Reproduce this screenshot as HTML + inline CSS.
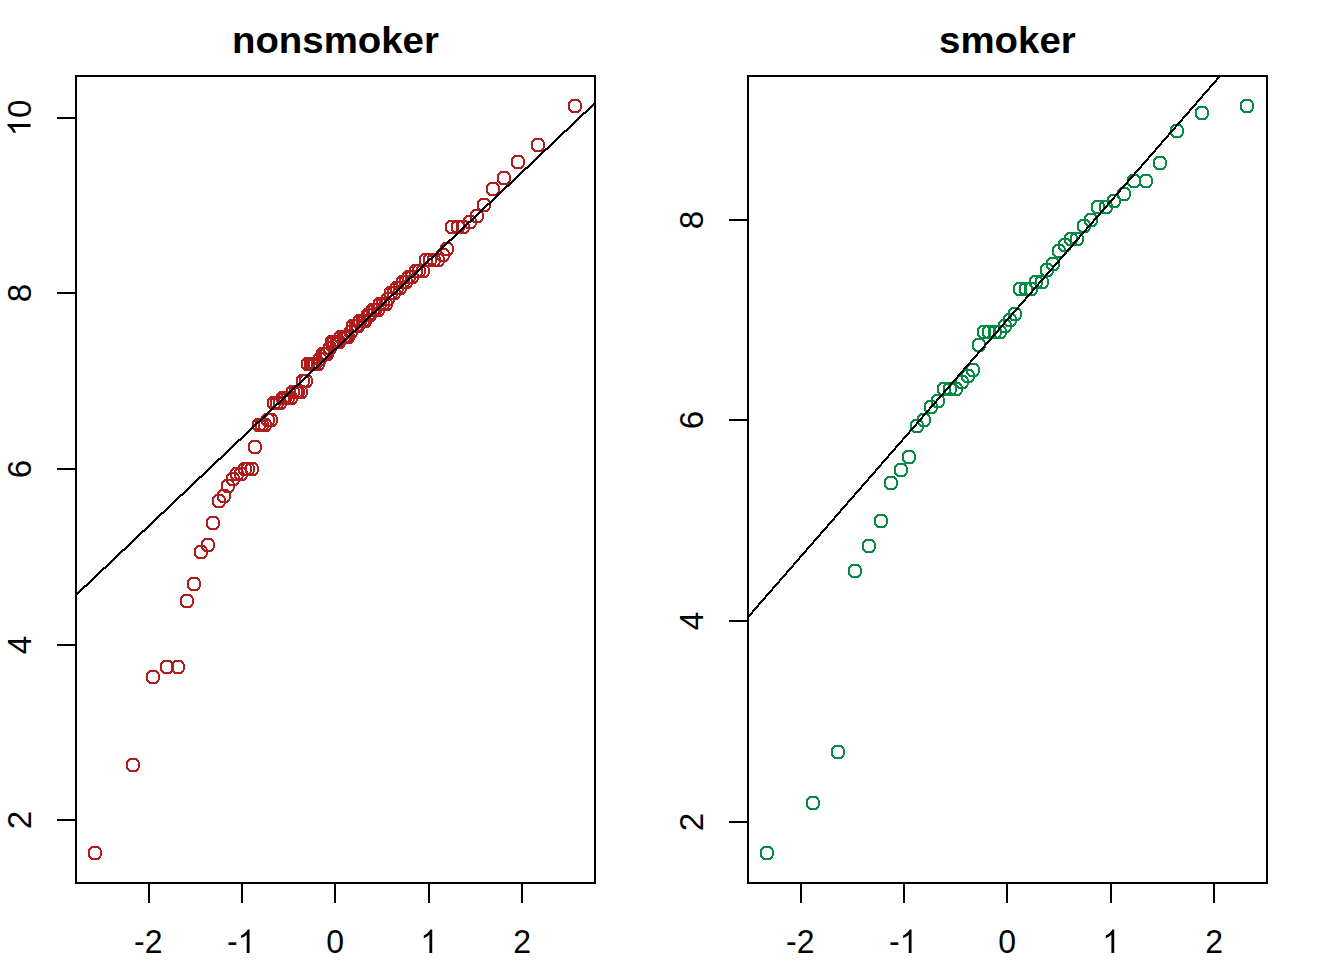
<!DOCTYPE html>
<html><head><meta charset="utf-8"><title>qq</title>
<style>html,body{margin:0;padding:0;background:#fff}svg{display:block}</style></head>
<body><svg width="1344" height="960" viewBox="0 0 1344 960">
<rect x="0" y="0" width="1344" height="960" fill="#fff"/>

<g shape-rendering="crispEdges" fill="none" stroke="#000" stroke-width="2">
<clipPath id="clip0"><rect x="76" y="76" width="519" height="807"/></clipPath>
<rect x="76" y="76" width="519" height="807"/>
<line x1="57" y1="820" x2="76" y2="820"/>
<line x1="57" y1="645" x2="76" y2="645"/>
<line x1="57" y1="469" x2="76" y2="469"/>
<line x1="57" y1="293" x2="76" y2="293"/>
<line x1="57" y1="118" x2="76" y2="118"/>
<line x1="149" y1="883" x2="149" y2="903"/>
<line x1="242" y1="883" x2="242" y2="903"/>
<line x1="335" y1="883" x2="335" y2="903"/>
<line x1="429" y1="883" x2="429" y2="903"/>
<line x1="522" y1="883" x2="522" y2="903"/>
</g>
<g shape-rendering="crispEdges" fill="#B11C1C" stroke="none">
<path d="M91,846h8v1h-8zM90,847h10v1h-10zM89,848h3v1h-3zM98,848h3v1h-3zM88,849h3v1h-3zM99,849h2v1h-2zM88,850h2v6h-2zM100,850h2v6h-2zM88,856h3v1h-3zM99,856h2v1h-2zM89,857h3v1h-3zM98,857h3v1h-3zM90,858h10v1h-10zM91,859h8v1h-8zM129,758h8v1h-8zM128,759h10v1h-10zM127,760h3v1h-3zM136,760h3v1h-3zM126,761h3v1h-3zM137,761h2v1h-2zM126,762h2v6h-2zM138,762h2v6h-2zM126,768h3v1h-3zM137,768h2v1h-2zM127,769h3v1h-3zM136,769h3v1h-3zM128,770h10v1h-10zM129,771h8v1h-8zM149,670h8v1h-8zM148,671h10v1h-10zM147,672h3v1h-3zM156,672h3v1h-3zM146,673h3v1h-3zM157,673h2v1h-2zM146,674h2v6h-2zM158,674h2v6h-2zM146,680h3v1h-3zM157,680h2v1h-2zM147,681h3v1h-3zM156,681h3v1h-3zM148,682h10v1h-10zM149,683h8v1h-8zM163,660h8v1h-8zM162,661h10v1h-10zM161,662h3v1h-3zM170,662h3v1h-3zM160,663h3v1h-3zM171,663h2v1h-2zM160,664h2v6h-2zM172,664h2v6h-2zM160,670h3v1h-3zM171,670h2v1h-2zM161,671h3v1h-3zM170,671h3v1h-3zM162,672h10v1h-10zM163,673h8v1h-8zM174,660h8v1h-8zM173,661h10v1h-10zM172,662h3v1h-3zM181,662h3v1h-3zM171,663h3v1h-3zM182,663h2v1h-2zM171,664h2v6h-2zM183,664h2v6h-2zM171,670h3v1h-3zM182,670h2v1h-2zM172,671h3v1h-3zM181,671h3v1h-3zM173,672h10v1h-10zM174,673h8v1h-8zM183,594h8v1h-8zM182,595h10v1h-10zM181,596h3v1h-3zM190,596h3v1h-3zM180,597h3v1h-3zM191,597h2v1h-2zM180,598h2v6h-2zM192,598h2v6h-2zM180,604h3v1h-3zM191,604h2v1h-2zM181,605h3v1h-3zM190,605h3v1h-3zM182,606h10v1h-10zM183,607h8v1h-8zM190,577h8v1h-8zM189,578h10v1h-10zM188,579h3v1h-3zM197,579h3v1h-3zM187,580h3v1h-3zM198,580h2v1h-2zM187,581h2v6h-2zM199,581h2v6h-2zM187,587h3v1h-3zM198,587h2v1h-2zM188,588h3v1h-3zM197,588h3v1h-3zM189,589h10v1h-10zM190,590h8v1h-8zM197,545h8v1h-8zM196,546h10v1h-10zM195,547h3v1h-3zM204,547h3v1h-3zM194,548h3v1h-3zM205,548h2v1h-2zM194,549h2v6h-2zM206,549h2v6h-2zM194,555h3v1h-3zM205,555h2v1h-2zM195,556h3v1h-3zM204,556h3v1h-3zM196,557h10v1h-10zM197,558h8v1h-8zM204,538h8v1h-8zM203,539h10v1h-10zM202,540h3v1h-3zM211,540h3v1h-3zM201,541h3v1h-3zM212,541h2v1h-2zM201,542h2v6h-2zM213,542h2v6h-2zM201,548h3v1h-3zM212,548h2v1h-2zM202,549h3v1h-3zM211,549h3v1h-3zM203,550h10v1h-10zM204,551h8v1h-8zM209,516h8v1h-8zM208,517h10v1h-10zM207,518h3v1h-3zM216,518h3v1h-3zM206,519h3v1h-3zM217,519h2v1h-2zM206,520h2v6h-2zM218,520h2v6h-2zM206,526h3v1h-3zM217,526h2v1h-2zM207,527h3v1h-3zM216,527h3v1h-3zM208,528h10v1h-10zM209,529h8v1h-8zM215,494h8v1h-8zM214,495h10v1h-10zM213,496h3v1h-3zM222,496h3v1h-3zM212,497h3v1h-3zM223,497h2v1h-2zM212,498h2v6h-2zM224,498h2v6h-2zM212,504h3v1h-3zM223,504h2v1h-2zM213,505h3v1h-3zM222,505h3v1h-3zM214,506h10v1h-10zM215,507h8v1h-8zM220,489h8v1h-8zM219,490h10v1h-10zM218,491h3v1h-3zM227,491h3v1h-3zM217,492h3v1h-3zM228,492h2v1h-2zM217,493h2v6h-2zM229,493h2v6h-2zM217,499h3v1h-3zM228,499h2v1h-2zM218,500h3v1h-3zM227,500h3v1h-3zM219,501h10v1h-10zM220,502h8v1h-8zM224,479h8v1h-8zM223,480h10v1h-10zM222,481h3v1h-3zM231,481h3v1h-3zM221,482h3v1h-3zM232,482h2v1h-2zM221,483h2v6h-2zM233,483h2v6h-2zM221,489h3v1h-3zM232,489h2v1h-2zM222,490h3v1h-3zM231,490h3v1h-3zM223,491h10v1h-10zM224,492h8v1h-8zM229,472h8v1h-8zM228,473h10v1h-10zM227,474h3v1h-3zM236,474h3v1h-3zM226,475h3v1h-3zM237,475h2v1h-2zM226,476h2v6h-2zM238,476h2v6h-2zM226,482h3v1h-3zM237,482h2v1h-2zM227,483h3v1h-3zM236,483h3v1h-3zM228,484h10v1h-10zM229,485h8v1h-8zM233,467h8v1h-8zM232,468h10v1h-10zM231,469h3v1h-3zM240,469h3v1h-3zM230,470h3v1h-3zM241,470h2v1h-2zM230,471h2v6h-2zM242,471h2v6h-2zM230,477h3v1h-3zM241,477h2v1h-2zM231,478h3v1h-3zM240,478h3v1h-3zM232,479h10v1h-10zM233,480h8v1h-8zM237,467h8v1h-8zM236,468h10v1h-10zM235,469h3v1h-3zM244,469h3v1h-3zM234,470h3v1h-3zM245,470h2v1h-2zM234,471h2v6h-2zM246,471h2v6h-2zM234,477h3v1h-3zM245,477h2v1h-2zM235,478h3v1h-3zM244,478h3v1h-3zM236,479h10v1h-10zM237,480h8v1h-8zM241,462h8v1h-8zM240,463h10v1h-10zM239,464h3v1h-3zM248,464h3v1h-3zM238,465h3v1h-3zM249,465h2v1h-2zM238,466h2v6h-2zM250,466h2v6h-2zM238,472h3v1h-3zM249,472h2v1h-2zM239,473h3v1h-3zM248,473h3v1h-3zM240,474h10v1h-10zM241,475h8v1h-8zM244,462h8v1h-8zM243,463h10v1h-10zM242,464h3v1h-3zM251,464h3v1h-3zM241,465h3v1h-3zM252,465h2v1h-2zM241,466h2v6h-2zM253,466h2v6h-2zM241,472h3v1h-3zM252,472h2v1h-2zM242,473h3v1h-3zM251,473h3v1h-3zM243,474h10v1h-10zM244,475h8v1h-8zM248,462h8v1h-8zM247,463h10v1h-10zM246,464h3v1h-3zM255,464h3v1h-3zM245,465h3v1h-3zM256,465h2v1h-2zM245,466h2v6h-2zM257,466h2v6h-2zM245,472h3v1h-3zM256,472h2v1h-2zM246,473h3v1h-3zM255,473h3v1h-3zM247,474h10v1h-10zM248,475h8v1h-8zM251,440h8v1h-8zM250,441h10v1h-10zM249,442h3v1h-3zM258,442h3v1h-3zM248,443h3v1h-3zM259,443h2v1h-2zM248,444h2v6h-2zM260,444h2v6h-2zM248,450h3v1h-3zM259,450h2v1h-2zM249,451h3v1h-3zM258,451h3v1h-3zM250,452h10v1h-10zM251,453h8v1h-8zM255,418h8v1h-8zM254,419h10v1h-10zM253,420h3v1h-3zM262,420h3v1h-3zM252,421h3v1h-3zM263,421h2v1h-2zM252,422h2v6h-2zM264,422h2v6h-2zM252,428h3v1h-3zM263,428h2v1h-2zM253,429h3v1h-3zM262,429h3v1h-3zM254,430h10v1h-10zM255,431h8v1h-8zM258,418h8v1h-8zM257,419h10v1h-10zM256,420h3v1h-3zM265,420h3v1h-3zM255,421h3v1h-3zM266,421h2v1h-2zM255,422h2v6h-2zM267,422h2v6h-2zM255,428h3v1h-3zM266,428h2v1h-2zM256,429h3v1h-3zM265,429h3v1h-3zM257,430h10v1h-10zM258,431h8v1h-8zM261,418h8v1h-8zM260,419h10v1h-10zM259,420h3v1h-3zM268,420h3v1h-3zM258,421h3v1h-3zM269,421h2v1h-2zM258,422h2v6h-2zM270,422h2v6h-2zM258,428h3v1h-3zM269,428h2v1h-2zM259,429h3v1h-3zM268,429h3v1h-3zM260,430h10v1h-10zM261,431h8v1h-8zM264,413h8v1h-8zM263,414h10v1h-10zM262,415h3v1h-3zM271,415h3v1h-3zM261,416h3v1h-3zM272,416h2v1h-2zM261,417h2v6h-2zM273,417h2v6h-2zM261,423h3v1h-3zM272,423h2v1h-2zM262,424h3v1h-3zM271,424h3v1h-3zM263,425h10v1h-10zM264,426h8v1h-8zM267,413h8v1h-8zM266,414h10v1h-10zM265,415h3v1h-3zM274,415h3v1h-3zM264,416h3v1h-3zM275,416h2v1h-2zM264,417h2v6h-2zM276,417h2v6h-2zM264,423h3v1h-3zM275,423h2v1h-2zM265,424h3v1h-3zM274,424h3v1h-3zM266,425h10v1h-10zM267,426h8v1h-8zM270,396h8v1h-8zM269,397h10v1h-10zM268,398h3v1h-3zM277,398h3v1h-3zM267,399h3v1h-3zM278,399h2v1h-2zM267,400h2v6h-2zM279,400h2v6h-2zM267,406h3v1h-3zM278,406h2v1h-2zM268,407h3v1h-3zM277,407h3v1h-3zM269,408h10v1h-10zM270,409h8v1h-8zM273,396h8v1h-8zM272,397h10v1h-10zM271,398h3v1h-3zM280,398h3v1h-3zM270,399h3v1h-3zM281,399h2v1h-2zM270,400h2v6h-2zM282,400h2v6h-2zM270,406h3v1h-3zM281,406h2v1h-2zM271,407h3v1h-3zM280,407h3v1h-3zM272,408h10v1h-10zM273,409h8v1h-8zM276,396h8v1h-8zM275,397h10v1h-10zM274,398h3v1h-3zM283,398h3v1h-3zM273,399h3v1h-3zM284,399h2v1h-2zM273,400h2v6h-2zM285,400h2v6h-2zM273,406h3v1h-3zM284,406h2v1h-2zM274,407h3v1h-3zM283,407h3v1h-3zM275,408h10v1h-10zM276,409h8v1h-8zM279,391h8v1h-8zM278,392h10v1h-10zM277,393h3v1h-3zM286,393h3v1h-3zM276,394h3v1h-3zM287,394h2v1h-2zM276,395h2v6h-2zM288,395h2v6h-2zM276,401h3v1h-3zM287,401h2v1h-2zM277,402h3v1h-3zM286,402h3v1h-3zM278,403h10v1h-10zM279,404h8v1h-8zM281,391h8v1h-8zM280,392h10v1h-10zM279,393h3v1h-3zM288,393h3v1h-3zM278,394h3v1h-3zM289,394h2v1h-2zM278,395h2v6h-2zM290,395h2v6h-2zM278,401h3v1h-3zM289,401h2v1h-2zM279,402h3v1h-3zM288,402h3v1h-3zM280,403h10v1h-10zM281,404h8v1h-8zM284,391h8v1h-8zM283,392h10v1h-10zM282,393h3v1h-3zM291,393h3v1h-3zM281,394h3v1h-3zM292,394h2v1h-2zM281,395h2v6h-2zM293,395h2v6h-2zM281,401h3v1h-3zM292,401h2v1h-2zM282,402h3v1h-3zM291,402h3v1h-3zM283,403h10v1h-10zM284,404h8v1h-8zM287,391h8v1h-8zM286,392h10v1h-10zM285,393h3v1h-3zM294,393h3v1h-3zM284,394h3v1h-3zM295,394h2v1h-2zM284,395h2v6h-2zM296,395h2v6h-2zM284,401h3v1h-3zM295,401h2v1h-2zM285,402h3v1h-3zM294,402h3v1h-3zM286,403h10v1h-10zM287,404h8v1h-8zM289,385h8v1h-8zM288,386h10v1h-10zM287,387h3v1h-3zM296,387h3v1h-3zM286,388h3v1h-3zM297,388h2v1h-2zM286,389h2v6h-2zM298,389h2v6h-2zM286,395h3v1h-3zM297,395h2v1h-2zM287,396h3v1h-3zM296,396h3v1h-3zM288,397h10v1h-10zM289,398h8v1h-8zM292,385h8v1h-8zM291,386h10v1h-10zM290,387h3v1h-3zM299,387h3v1h-3zM289,388h3v1h-3zM300,388h2v1h-2zM289,389h2v6h-2zM301,389h2v6h-2zM289,395h3v1h-3zM300,395h2v1h-2zM290,396h3v1h-3zM299,396h3v1h-3zM291,397h10v1h-10zM292,398h8v1h-8zM294,385h8v1h-8zM293,386h10v1h-10zM292,387h3v1h-3zM301,387h3v1h-3zM291,388h3v1h-3zM302,388h2v1h-2zM291,389h2v6h-2zM303,389h2v6h-2zM291,395h3v1h-3zM302,395h2v1h-2zM292,396h3v1h-3zM301,396h3v1h-3zM293,397h10v1h-10zM294,398h8v1h-8zM297,385h8v1h-8zM296,386h10v1h-10zM295,387h3v1h-3zM304,387h3v1h-3zM294,388h3v1h-3zM305,388h2v1h-2zM294,389h2v6h-2zM306,389h2v6h-2zM294,395h3v1h-3zM305,395h2v1h-2zM295,396h3v1h-3zM304,396h3v1h-3zM296,397h10v1h-10zM297,398h8v1h-8zM299,374h8v1h-8zM298,375h10v1h-10zM297,376h3v1h-3zM306,376h3v1h-3zM296,377h3v1h-3zM307,377h2v1h-2zM296,378h2v6h-2zM308,378h2v6h-2zM296,384h3v1h-3zM307,384h2v1h-2zM297,385h3v1h-3zM306,385h3v1h-3zM298,386h10v1h-10zM299,387h8v1h-8zM302,374h8v1h-8zM301,375h10v1h-10zM300,376h3v1h-3zM309,376h3v1h-3zM299,377h3v1h-3zM310,377h2v1h-2zM299,378h2v6h-2zM311,378h2v6h-2zM299,384h3v1h-3zM310,384h2v1h-2zM300,385h3v1h-3zM309,385h3v1h-3zM301,386h10v1h-10zM302,387h8v1h-8zM304,357h8v1h-8zM303,358h10v1h-10zM302,359h3v1h-3zM311,359h3v1h-3zM301,360h3v1h-3zM312,360h2v1h-2zM301,361h2v6h-2zM313,361h2v6h-2zM301,367h3v1h-3zM312,367h2v1h-2zM302,368h3v1h-3zM311,368h3v1h-3zM303,369h10v1h-10zM304,370h8v1h-8zM307,357h8v1h-8zM306,358h10v1h-10zM305,359h3v1h-3zM314,359h3v1h-3zM304,360h3v1h-3zM315,360h2v1h-2zM304,361h2v6h-2zM316,361h2v6h-2zM304,367h3v1h-3zM315,367h2v1h-2zM305,368h3v1h-3zM314,368h3v1h-3zM306,369h10v1h-10zM307,370h8v1h-8zM309,357h8v1h-8zM308,358h10v1h-10zM307,359h3v1h-3zM316,359h3v1h-3zM306,360h3v1h-3zM317,360h2v1h-2zM306,361h2v6h-2zM318,361h2v6h-2zM306,367h3v1h-3zM317,367h2v1h-2zM307,368h3v1h-3zM316,368h3v1h-3zM308,369h10v1h-10zM309,370h8v1h-8zM311,357h8v1h-8zM310,358h10v1h-10zM309,359h3v1h-3zM318,359h3v1h-3zM308,360h3v1h-3zM319,360h2v1h-2zM308,361h2v6h-2zM320,361h2v6h-2zM308,367h3v1h-3zM319,367h2v1h-2zM309,368h3v1h-3zM318,368h3v1h-3zM310,369h10v1h-10zM311,370h8v1h-8zM314,357h8v1h-8zM313,358h10v1h-10zM312,359h3v1h-3zM321,359h3v1h-3zM311,360h3v1h-3zM322,360h2v1h-2zM311,361h2v6h-2zM323,361h2v6h-2zM311,367h3v1h-3zM322,367h2v1h-2zM312,368h3v1h-3zM321,368h3v1h-3zM313,369h10v1h-10zM314,370h8v1h-8zM316,352h8v1h-8zM315,353h10v1h-10zM314,354h3v1h-3zM323,354h3v1h-3zM313,355h3v1h-3zM324,355h2v1h-2zM313,356h2v6h-2zM325,356h2v6h-2zM313,362h3v1h-3zM324,362h2v1h-2zM314,363h3v1h-3zM323,363h3v1h-3zM315,364h10v1h-10zM316,365h8v1h-8zM319,347h8v1h-8zM318,348h10v1h-10zM317,349h3v1h-3zM326,349h3v1h-3zM316,350h3v1h-3zM327,350h2v1h-2zM316,351h2v6h-2zM328,351h2v6h-2zM316,357h3v1h-3zM327,357h2v1h-2zM317,358h3v1h-3zM326,358h3v1h-3zM318,359h10v1h-10zM319,360h8v1h-8zM321,347h8v1h-8zM320,348h10v1h-10zM319,349h3v1h-3zM328,349h3v1h-3zM318,350h3v1h-3zM329,350h2v1h-2zM318,351h2v6h-2zM330,351h2v6h-2zM318,357h3v1h-3zM329,357h2v1h-2zM319,358h3v1h-3zM328,358h3v1h-3zM320,359h10v1h-10zM321,360h8v1h-8zM323,347h8v1h-8zM322,348h10v1h-10zM321,349h3v1h-3zM330,349h3v1h-3zM320,350h3v1h-3zM331,350h2v1h-2zM320,351h2v6h-2zM332,351h2v6h-2zM320,357h3v1h-3zM331,357h2v1h-2zM321,358h3v1h-3zM330,358h3v1h-3zM322,359h10v1h-10zM323,360h8v1h-8zM326,341h8v1h-8zM325,342h10v1h-10zM324,343h3v1h-3zM333,343h3v1h-3zM323,344h3v1h-3zM334,344h2v1h-2zM323,345h2v6h-2zM335,345h2v6h-2zM323,351h3v1h-3zM334,351h2v1h-2zM324,352h3v1h-3zM333,352h3v1h-3zM325,353h10v1h-10zM326,354h8v1h-8zM328,335h8v1h-8zM327,336h10v1h-10zM326,337h3v1h-3zM335,337h3v1h-3zM325,338h3v1h-3zM336,338h2v1h-2zM325,339h2v6h-2zM337,339h2v6h-2zM325,345h3v1h-3zM336,345h2v1h-2zM326,346h3v1h-3zM335,346h3v1h-3zM327,347h10v1h-10zM328,348h8v1h-8zM330,335h8v1h-8zM329,336h10v1h-10zM328,337h3v1h-3zM337,337h3v1h-3zM327,338h3v1h-3zM338,338h2v1h-2zM327,339h2v6h-2zM339,339h2v6h-2zM327,345h3v1h-3zM338,345h2v1h-2zM328,346h3v1h-3zM337,346h3v1h-3zM329,347h10v1h-10zM330,348h8v1h-8zM333,335h8v1h-8zM332,336h10v1h-10zM331,337h3v1h-3zM340,337h3v1h-3zM330,338h3v1h-3zM341,338h2v1h-2zM330,339h2v6h-2zM342,339h2v6h-2zM330,345h3v1h-3zM341,345h2v1h-2zM331,346h3v1h-3zM340,346h3v1h-3zM332,347h10v1h-10zM333,348h8v1h-8zM335,335h8v1h-8zM334,336h10v1h-10zM333,337h3v1h-3zM342,337h3v1h-3zM332,338h3v1h-3zM343,338h2v1h-2zM332,339h2v6h-2zM344,339h2v6h-2zM332,345h3v1h-3zM343,345h2v1h-2zM333,346h3v1h-3zM342,346h3v1h-3zM334,347h10v1h-10zM335,348h8v1h-8zM337,330h8v1h-8zM336,331h10v1h-10zM335,332h3v1h-3zM344,332h3v1h-3zM334,333h3v1h-3zM345,333h2v1h-2zM334,334h2v6h-2zM346,334h2v6h-2zM334,340h3v1h-3zM345,340h2v1h-2zM335,341h3v1h-3zM344,341h3v1h-3zM336,342h10v1h-10zM337,343h8v1h-8zM340,330h8v1h-8zM339,331h10v1h-10zM338,332h3v1h-3zM347,332h3v1h-3zM337,333h3v1h-3zM348,333h2v1h-2zM337,334h2v6h-2zM349,334h2v6h-2zM337,340h3v1h-3zM348,340h2v1h-2zM338,341h3v1h-3zM347,341h3v1h-3zM339,342h10v1h-10zM340,343h8v1h-8zM342,330h8v1h-8zM341,331h10v1h-10zM340,332h3v1h-3zM349,332h3v1h-3zM339,333h3v1h-3zM350,333h2v1h-2zM339,334h2v6h-2zM351,334h2v6h-2zM339,340h3v1h-3zM350,340h2v1h-2zM340,341h3v1h-3zM349,341h3v1h-3zM341,342h10v1h-10zM342,343h8v1h-8zM344,330h8v1h-8zM343,331h10v1h-10zM342,332h3v1h-3zM351,332h3v1h-3zM341,333h3v1h-3zM352,333h2v1h-2zM341,334h2v6h-2zM353,334h2v6h-2zM341,340h3v1h-3zM352,340h2v1h-2zM342,341h3v1h-3zM351,341h3v1h-3zM343,342h10v1h-10zM344,343h8v1h-8zM347,325h8v1h-8zM346,326h10v1h-10zM345,327h3v1h-3zM354,327h3v1h-3zM344,328h3v1h-3zM355,328h2v1h-2zM344,329h2v6h-2zM356,329h2v6h-2zM344,335h3v1h-3zM355,335h2v1h-2zM345,336h3v1h-3zM354,336h3v1h-3zM346,337h10v1h-10zM347,338h8v1h-8zM349,319h8v1h-8zM348,320h10v1h-10zM347,321h3v1h-3zM356,321h3v1h-3zM346,322h3v1h-3zM357,322h2v1h-2zM346,323h2v6h-2zM358,323h2v6h-2zM346,329h3v1h-3zM357,329h2v1h-2zM347,330h3v1h-3zM356,330h3v1h-3zM348,331h10v1h-10zM349,332h8v1h-8zM352,319h8v1h-8zM351,320h10v1h-10zM350,321h3v1h-3zM359,321h3v1h-3zM349,322h3v1h-3zM360,322h2v1h-2zM349,323h2v6h-2zM361,323h2v6h-2zM349,329h3v1h-3zM360,329h2v1h-2zM350,330h3v1h-3zM359,330h3v1h-3zM351,331h10v1h-10zM352,332h8v1h-8zM354,319h8v1h-8zM353,320h10v1h-10zM352,321h3v1h-3zM361,321h3v1h-3zM351,322h3v1h-3zM362,322h2v1h-2zM351,323h2v6h-2zM363,323h2v6h-2zM351,329h3v1h-3zM362,329h2v1h-2zM352,330h3v1h-3zM361,330h3v1h-3zM353,331h10v1h-10zM354,332h8v1h-8zM356,314h8v1h-8zM355,315h10v1h-10zM354,316h3v1h-3zM363,316h3v1h-3zM353,317h3v1h-3zM364,317h2v1h-2zM353,318h2v6h-2zM365,318h2v6h-2zM353,324h3v1h-3zM364,324h2v1h-2zM354,325h3v1h-3zM363,325h3v1h-3zM355,326h10v1h-10zM356,327h8v1h-8zM359,314h8v1h-8zM358,315h10v1h-10zM357,316h3v1h-3zM366,316h3v1h-3zM356,317h3v1h-3zM367,317h2v1h-2zM356,318h2v6h-2zM368,318h2v6h-2zM356,324h3v1h-3zM367,324h2v1h-2zM357,325h3v1h-3zM366,325h3v1h-3zM358,326h10v1h-10zM359,327h8v1h-8zM361,314h8v1h-8zM360,315h10v1h-10zM359,316h3v1h-3zM368,316h3v1h-3zM358,317h3v1h-3zM369,317h2v1h-2zM358,318h2v6h-2zM370,318h2v6h-2zM358,324h3v1h-3zM369,324h2v1h-2zM359,325h3v1h-3zM368,325h3v1h-3zM360,326h10v1h-10zM361,327h8v1h-8zM364,308h8v1h-8zM363,309h10v1h-10zM362,310h3v1h-3zM371,310h3v1h-3zM361,311h3v1h-3zM372,311h2v1h-2zM361,312h2v6h-2zM373,312h2v6h-2zM361,318h3v1h-3zM372,318h2v1h-2zM362,319h3v1h-3zM371,319h3v1h-3zM363,320h10v1h-10zM364,321h8v1h-8zM366,308h8v1h-8zM365,309h10v1h-10zM364,310h3v1h-3zM373,310h3v1h-3zM363,311h3v1h-3zM374,311h2v1h-2zM363,312h2v6h-2zM375,312h2v6h-2zM363,318h3v1h-3zM374,318h2v1h-2zM364,319h3v1h-3zM373,319h3v1h-3zM365,320h10v1h-10zM366,321h8v1h-8zM369,303h8v1h-8zM368,304h10v1h-10zM367,305h3v1h-3zM376,305h3v1h-3zM366,306h3v1h-3zM377,306h2v1h-2zM366,307h2v6h-2zM378,307h2v6h-2zM366,313h3v1h-3zM377,313h2v1h-2zM367,314h3v1h-3zM376,314h3v1h-3zM368,315h10v1h-10zM369,316h8v1h-8zM371,303h8v1h-8zM370,304h10v1h-10zM369,305h3v1h-3zM378,305h3v1h-3zM368,306h3v1h-3zM379,306h2v1h-2zM368,307h2v6h-2zM380,307h2v6h-2zM368,313h3v1h-3zM379,313h2v1h-2zM369,314h3v1h-3zM378,314h3v1h-3zM370,315h10v1h-10zM371,316h8v1h-8zM374,303h8v1h-8zM373,304h10v1h-10zM372,305h3v1h-3zM381,305h3v1h-3zM371,306h3v1h-3zM382,306h2v1h-2zM371,307h2v6h-2zM383,307h2v6h-2zM371,313h3v1h-3zM382,313h2v1h-2zM372,314h3v1h-3zM381,314h3v1h-3zM373,315h10v1h-10zM374,316h8v1h-8zM376,297h8v1h-8zM375,298h10v1h-10zM374,299h3v1h-3zM383,299h3v1h-3zM373,300h3v1h-3zM384,300h2v1h-2zM373,301h2v6h-2zM385,301h2v6h-2zM373,307h3v1h-3zM384,307h2v1h-2zM374,308h3v1h-3zM383,308h3v1h-3zM375,309h10v1h-10zM376,310h8v1h-8zM379,297h8v1h-8zM378,298h10v1h-10zM377,299h3v1h-3zM386,299h3v1h-3zM376,300h3v1h-3zM387,300h2v1h-2zM376,301h2v6h-2zM388,301h2v6h-2zM376,307h3v1h-3zM387,307h2v1h-2zM377,308h3v1h-3zM386,308h3v1h-3zM378,309h10v1h-10zM379,310h8v1h-8zM382,297h8v1h-8zM381,298h10v1h-10zM380,299h3v1h-3zM389,299h3v1h-3zM379,300h3v1h-3zM390,300h2v1h-2zM379,301h2v6h-2zM391,301h2v6h-2zM379,307h3v1h-3zM390,307h2v1h-2zM380,308h3v1h-3zM389,308h3v1h-3zM381,309h10v1h-10zM382,310h8v1h-8zM384,292h8v1h-8zM383,293h10v1h-10zM382,294h3v1h-3zM391,294h3v1h-3zM381,295h3v1h-3zM392,295h2v1h-2zM381,296h2v6h-2zM393,296h2v6h-2zM381,302h3v1h-3zM392,302h2v1h-2zM382,303h3v1h-3zM391,303h3v1h-3zM383,304h10v1h-10zM384,305h8v1h-8zM387,286h8v1h-8zM386,287h10v1h-10zM385,288h3v1h-3zM394,288h3v1h-3zM384,289h3v1h-3zM395,289h2v1h-2zM384,290h2v6h-2zM396,290h2v6h-2zM384,296h3v1h-3zM395,296h2v1h-2zM385,297h3v1h-3zM394,297h3v1h-3zM386,298h10v1h-10zM387,299h8v1h-8zM390,286h8v1h-8zM389,287h10v1h-10zM388,288h3v1h-3zM397,288h3v1h-3zM387,289h3v1h-3zM398,289h2v1h-2zM387,290h2v6h-2zM399,290h2v6h-2zM387,296h3v1h-3zM398,296h2v1h-2zM388,297h3v1h-3zM397,297h3v1h-3zM389,298h10v1h-10zM390,299h8v1h-8zM393,281h8v1h-8zM392,282h10v1h-10zM391,283h3v1h-3zM400,283h3v1h-3zM390,284h3v1h-3zM401,284h2v1h-2zM390,285h2v6h-2zM402,285h2v6h-2zM390,291h3v1h-3zM401,291h2v1h-2zM391,292h3v1h-3zM400,292h3v1h-3zM392,293h10v1h-10zM393,294h8v1h-8zM396,281h8v1h-8zM395,282h10v1h-10zM394,283h3v1h-3zM403,283h3v1h-3zM393,284h3v1h-3zM404,284h2v1h-2zM393,285h2v6h-2zM405,285h2v6h-2zM393,291h3v1h-3zM404,291h2v1h-2zM394,292h3v1h-3zM403,292h3v1h-3zM395,293h10v1h-10zM396,294h8v1h-8zM399,275h8v1h-8zM398,276h10v1h-10zM397,277h3v1h-3zM406,277h3v1h-3zM396,278h3v1h-3zM407,278h2v1h-2zM396,279h2v6h-2zM408,279h2v6h-2zM396,285h3v1h-3zM407,285h2v1h-2zM397,286h3v1h-3zM406,286h3v1h-3zM398,287h10v1h-10zM399,288h8v1h-8zM402,275h8v1h-8zM401,276h10v1h-10zM400,277h3v1h-3zM409,277h3v1h-3zM399,278h3v1h-3zM410,278h2v1h-2zM399,279h2v6h-2zM411,279h2v6h-2zM399,285h3v1h-3zM410,285h2v1h-2zM400,286h3v1h-3zM409,286h3v1h-3zM401,287h10v1h-10zM402,288h8v1h-8zM405,270h8v1h-8zM404,271h10v1h-10zM403,272h3v1h-3zM412,272h3v1h-3zM402,273h3v1h-3zM413,273h2v1h-2zM402,274h2v6h-2zM414,274h2v6h-2zM402,280h3v1h-3zM413,280h2v1h-2zM403,281h3v1h-3zM412,281h3v1h-3zM404,282h10v1h-10zM405,283h8v1h-8zM408,270h8v1h-8zM407,271h10v1h-10zM406,272h3v1h-3zM415,272h3v1h-3zM405,273h3v1h-3zM416,273h2v1h-2zM405,274h2v6h-2zM417,274h2v6h-2zM405,280h3v1h-3zM416,280h2v1h-2zM406,281h3v1h-3zM415,281h3v1h-3zM407,282h10v1h-10zM408,283h8v1h-8zM412,264h8v1h-8zM411,265h10v1h-10zM410,266h3v1h-3zM419,266h3v1h-3zM409,267h3v1h-3zM420,267h2v1h-2zM409,268h2v6h-2zM421,268h2v6h-2zM409,274h3v1h-3zM420,274h2v1h-2zM410,275h3v1h-3zM419,275h3v1h-3zM411,276h10v1h-10zM412,277h8v1h-8zM415,264h8v1h-8zM414,265h10v1h-10zM413,266h3v1h-3zM422,266h3v1h-3zM412,267h3v1h-3zM423,267h2v1h-2zM412,268h2v6h-2zM424,268h2v6h-2zM412,274h3v1h-3zM423,274h2v1h-2zM413,275h3v1h-3zM422,275h3v1h-3zM414,276h10v1h-10zM415,277h8v1h-8zM419,264h8v1h-8zM418,265h10v1h-10zM417,266h3v1h-3zM426,266h3v1h-3zM416,267h3v1h-3zM427,267h2v1h-2zM416,268h2v6h-2zM428,268h2v6h-2zM416,274h3v1h-3zM427,274h2v1h-2zM417,275h3v1h-3zM426,275h3v1h-3zM418,276h10v1h-10zM419,277h8v1h-8zM422,253h8v1h-8zM421,254h10v1h-10zM420,255h3v1h-3zM429,255h3v1h-3zM419,256h3v1h-3zM430,256h2v1h-2zM419,257h2v6h-2zM431,257h2v6h-2zM419,263h3v1h-3zM430,263h2v1h-2zM420,264h3v1h-3zM429,264h3v1h-3zM421,265h10v1h-10zM422,266h8v1h-8zM426,253h8v1h-8zM425,254h10v1h-10zM424,255h3v1h-3zM433,255h3v1h-3zM423,256h3v1h-3zM434,256h2v1h-2zM423,257h2v6h-2zM435,257h2v6h-2zM423,263h3v1h-3zM434,263h2v1h-2zM424,264h3v1h-3zM433,264h3v1h-3zM425,265h10v1h-10zM426,266h8v1h-8zM430,253h8v1h-8zM429,254h10v1h-10zM428,255h3v1h-3zM437,255h3v1h-3zM427,256h3v1h-3zM438,256h2v1h-2zM427,257h2v6h-2zM439,257h2v6h-2zM427,263h3v1h-3zM438,263h2v1h-2zM428,264h3v1h-3zM437,264h3v1h-3zM429,265h10v1h-10zM430,266h8v1h-8zM434,253h8v1h-8zM433,254h10v1h-10zM432,255h3v1h-3zM441,255h3v1h-3zM431,256h3v1h-3zM442,256h2v1h-2zM431,257h2v6h-2zM443,257h2v6h-2zM431,263h3v1h-3zM442,263h2v1h-2zM432,264h3v1h-3zM441,264h3v1h-3zM433,265h10v1h-10zM434,266h8v1h-8zM439,248h8v1h-8zM438,249h10v1h-10zM437,250h3v1h-3zM446,250h3v1h-3zM436,251h3v1h-3zM447,251h2v1h-2zM436,252h2v6h-2zM448,252h2v6h-2zM436,258h3v1h-3zM447,258h2v1h-2zM437,259h3v1h-3zM446,259h3v1h-3zM438,260h10v1h-10zM439,261h8v1h-8zM443,242h8v1h-8zM442,243h10v1h-10zM441,244h3v1h-3zM450,244h3v1h-3zM440,245h3v1h-3zM451,245h2v1h-2zM440,246h2v6h-2zM452,246h2v6h-2zM440,252h3v1h-3zM451,252h2v1h-2zM441,253h3v1h-3zM450,253h3v1h-3zM442,254h10v1h-10zM443,255h8v1h-8zM448,220h8v1h-8zM447,221h10v1h-10zM446,222h3v1h-3zM455,222h3v1h-3zM445,223h3v1h-3zM456,223h2v1h-2zM445,224h2v6h-2zM457,224h2v6h-2zM445,230h3v1h-3zM456,230h2v1h-2zM446,231h3v1h-3zM455,231h3v1h-3zM447,232h10v1h-10zM448,233h8v1h-8zM454,220h8v1h-8zM453,221h10v1h-10zM452,222h3v1h-3zM461,222h3v1h-3zM451,223h3v1h-3zM462,223h2v1h-2zM451,224h2v6h-2zM463,224h2v6h-2zM451,230h3v1h-3zM462,230h2v1h-2zM452,231h3v1h-3zM461,231h3v1h-3zM453,232h10v1h-10zM454,233h8v1h-8zM459,220h8v1h-8zM458,221h10v1h-10zM457,222h3v1h-3zM466,222h3v1h-3zM456,223h3v1h-3zM467,223h2v1h-2zM456,224h2v6h-2zM468,224h2v6h-2zM456,230h3v1h-3zM467,230h2v1h-2zM457,231h3v1h-3zM466,231h3v1h-3zM458,232h10v1h-10zM459,233h8v1h-8zM466,215h8v1h-8zM465,216h10v1h-10zM464,217h3v1h-3zM473,217h3v1h-3zM463,218h3v1h-3zM474,218h2v1h-2zM463,219h2v6h-2zM475,219h2v6h-2zM463,225h3v1h-3zM474,225h2v1h-2zM464,226h3v1h-3zM473,226h3v1h-3zM465,227h10v1h-10zM466,228h8v1h-8zM473,209h8v1h-8zM472,210h10v1h-10zM471,211h3v1h-3zM480,211h3v1h-3zM470,212h3v1h-3zM481,212h2v1h-2zM470,213h2v6h-2zM482,213h2v6h-2zM470,219h3v1h-3zM481,219h2v1h-2zM471,220h3v1h-3zM480,220h3v1h-3zM472,221h10v1h-10zM473,222h8v1h-8zM480,198h8v1h-8zM479,199h10v1h-10zM478,200h3v1h-3zM487,200h3v1h-3zM477,201h3v1h-3zM488,201h2v1h-2zM477,202h2v6h-2zM489,202h2v6h-2zM477,208h3v1h-3zM488,208h2v1h-2zM478,209h3v1h-3zM487,209h3v1h-3zM479,210h10v1h-10zM480,211h8v1h-8zM489,182h8v1h-8zM488,183h10v1h-10zM487,184h3v1h-3zM496,184h3v1h-3zM486,185h3v1h-3zM497,185h2v1h-2zM486,186h2v6h-2zM498,186h2v6h-2zM486,192h3v1h-3zM497,192h2v1h-2zM487,193h3v1h-3zM496,193h3v1h-3zM488,194h10v1h-10zM489,195h8v1h-8zM500,171h8v1h-8zM499,172h10v1h-10zM498,173h3v1h-3zM507,173h3v1h-3zM497,174h3v1h-3zM508,174h2v1h-2zM497,175h2v6h-2zM509,175h2v6h-2zM497,181h3v1h-3zM508,181h2v1h-2zM498,182h3v1h-3zM507,182h3v1h-3zM499,183h10v1h-10zM500,184h8v1h-8zM514,155h8v1h-8zM513,156h10v1h-10zM512,157h3v1h-3zM521,157h3v1h-3zM511,158h3v1h-3zM522,158h2v1h-2zM511,159h2v6h-2zM523,159h2v6h-2zM511,165h3v1h-3zM522,165h2v1h-2zM512,166h3v1h-3zM521,166h3v1h-3zM513,167h10v1h-10zM514,168h8v1h-8zM534,138h8v1h-8zM533,139h10v1h-10zM532,140h3v1h-3zM541,140h3v1h-3zM531,141h3v1h-3zM542,141h2v1h-2zM531,142h2v6h-2zM543,142h2v6h-2zM531,148h3v1h-3zM542,148h2v1h-2zM532,149h3v1h-3zM541,149h3v1h-3zM533,150h10v1h-10zM534,151h8v1h-8zM571,99h8v1h-8zM570,100h10v1h-10zM569,101h3v1h-3zM578,101h3v1h-3zM568,102h3v1h-3zM579,102h2v1h-2zM568,103h2v6h-2zM580,103h2v6h-2zM568,109h3v1h-3zM579,109h2v1h-2zM569,110h3v1h-3zM578,110h3v1h-3zM570,111h10v1h-10zM571,112h8v1h-8z"/>
</g>
<path d="M75,594h2v2h-2zM76,593h2v2h-2zM77,592h2v2h-2zM78,591h2v2h-2zM79,590h2v2h-2zM80,589h2v2h-2zM81,588h2v2h-2zM82,587h2v2h-2zM83,586h2v2h-2zM84,585h2v2h-2zM85,585h2v2h-2zM86,584h2v2h-2zM87,583h2v2h-2zM88,582h2v2h-2zM89,581h2v2h-2zM90,580h2v2h-2zM91,579h2v2h-2zM92,578h2v2h-2zM93,577h2v2h-2zM94,576h2v2h-2zM95,575h2v2h-2zM96,574h2v2h-2zM97,573h2v2h-2zM98,572h2v2h-2zM99,571h2v2h-2zM100,570h2v2h-2zM101,569h2v2h-2zM102,568h2v2h-2zM103,567h2v2h-2zM104,567h2v2h-2zM105,566h2v2h-2zM106,565h2v2h-2zM107,564h2v2h-2zM108,563h2v2h-2zM109,562h2v2h-2zM110,561h2v2h-2zM111,560h2v2h-2zM112,559h2v2h-2zM113,558h2v2h-2zM114,557h2v2h-2zM115,556h2v2h-2zM116,555h2v2h-2zM117,554h2v2h-2zM118,553h2v2h-2zM119,552h2v2h-2zM120,551h2v2h-2zM121,550h2v2h-2zM122,549h2v2h-2zM123,549h2v2h-2zM124,548h2v2h-2zM125,547h2v2h-2zM126,546h2v2h-2zM127,545h2v2h-2zM128,544h2v2h-2zM129,543h2v2h-2zM130,542h2v2h-2zM131,541h2v2h-2zM132,540h2v2h-2zM133,539h2v2h-2zM134,538h2v2h-2zM135,537h2v2h-2zM136,536h2v2h-2zM137,535h2v2h-2zM138,534h2v2h-2zM139,533h2v2h-2zM140,532h2v2h-2zM141,531h2v2h-2zM142,530h2v2h-2zM143,530h2v2h-2zM144,529h2v2h-2zM145,528h2v2h-2zM146,527h2v2h-2zM147,526h2v2h-2zM148,525h2v2h-2zM149,524h2v2h-2zM150,523h2v2h-2zM151,522h2v2h-2zM152,521h2v2h-2zM153,520h2v2h-2zM154,519h2v2h-2zM155,518h2v2h-2zM156,517h2v2h-2zM157,516h2v2h-2zM158,515h2v2h-2zM159,514h2v2h-2zM160,513h2v2h-2zM161,512h2v2h-2zM162,512h2v2h-2zM163,511h2v2h-2zM164,510h2v2h-2zM165,509h2v2h-2zM166,508h2v2h-2zM167,507h2v2h-2zM168,506h2v2h-2zM169,505h2v2h-2zM170,504h2v2h-2zM171,503h2v2h-2zM172,502h2v2h-2zM173,501h2v2h-2zM174,500h2v2h-2zM175,499h2v2h-2zM176,498h2v2h-2zM177,497h2v2h-2zM178,496h2v2h-2zM179,495h2v2h-2zM180,494h2v2h-2zM181,494h2v2h-2zM182,493h2v2h-2zM183,492h2v2h-2zM184,491h2v2h-2zM185,490h2v2h-2zM186,489h2v2h-2zM187,488h2v2h-2zM188,487h2v2h-2zM189,486h2v2h-2zM190,485h2v2h-2zM191,484h2v2h-2zM192,483h2v2h-2zM193,482h2v2h-2zM194,481h2v2h-2zM195,480h2v2h-2zM196,479h2v2h-2zM197,478h2v2h-2zM198,477h2v2h-2zM199,476h2v2h-2zM200,476h2v2h-2zM201,475h2v2h-2zM202,474h2v2h-2zM203,473h2v2h-2zM204,472h2v2h-2zM205,471h2v2h-2zM206,470h2v2h-2zM207,469h2v2h-2zM208,468h2v2h-2zM209,467h2v2h-2zM210,466h2v2h-2zM211,465h2v2h-2zM212,464h2v2h-2zM213,463h2v2h-2zM214,462h2v2h-2zM215,461h2v2h-2zM216,460h2v2h-2zM217,459h2v2h-2zM218,458h2v2h-2zM219,458h2v2h-2zM220,457h2v2h-2zM221,456h2v2h-2zM222,455h2v2h-2zM223,454h2v2h-2zM224,453h2v2h-2zM225,452h2v2h-2zM226,451h2v2h-2zM227,450h2v2h-2zM228,449h2v2h-2zM229,448h2v2h-2zM230,447h2v2h-2zM231,446h2v2h-2zM232,445h2v2h-2zM233,444h2v2h-2zM234,443h2v2h-2zM235,442h2v2h-2zM236,441h2v2h-2zM237,440h2v2h-2zM238,439h2v2h-2zM239,439h2v2h-2zM240,438h2v2h-2zM241,437h2v2h-2zM242,436h2v2h-2zM243,435h2v2h-2zM244,434h2v2h-2zM245,433h2v2h-2zM246,432h2v2h-2zM247,431h2v2h-2zM248,430h2v2h-2zM249,429h2v2h-2zM250,428h2v2h-2zM251,427h2v2h-2zM252,426h2v2h-2zM253,425h2v2h-2zM254,424h2v2h-2zM255,423h2v2h-2zM256,422h2v2h-2zM257,421h2v2h-2zM258,421h2v2h-2zM259,420h2v2h-2zM260,419h2v2h-2zM261,418h2v2h-2zM262,417h2v2h-2zM263,416h2v2h-2zM264,415h2v2h-2zM265,414h2v2h-2zM266,413h2v2h-2zM267,412h2v2h-2zM268,411h2v2h-2zM269,410h2v2h-2zM270,409h2v2h-2zM271,408h2v2h-2zM272,407h2v2h-2zM273,406h2v2h-2zM274,405h2v2h-2zM275,404h2v2h-2zM276,403h2v2h-2zM277,403h2v2h-2zM278,402h2v2h-2zM279,401h2v2h-2zM280,400h2v2h-2zM281,399h2v2h-2zM282,398h2v2h-2zM283,397h2v2h-2zM284,396h2v2h-2zM285,395h2v2h-2zM286,394h2v2h-2zM287,393h2v2h-2zM288,392h2v2h-2zM289,391h2v2h-2zM290,390h2v2h-2zM291,389h2v2h-2zM292,388h2v2h-2zM293,387h2v2h-2zM294,386h2v2h-2zM295,385h2v2h-2zM296,385h2v2h-2zM297,384h2v2h-2zM298,383h2v2h-2zM299,382h2v2h-2zM300,381h2v2h-2zM301,380h2v2h-2zM302,379h2v2h-2zM303,378h2v2h-2zM304,377h2v2h-2zM305,376h2v2h-2zM306,375h2v2h-2zM307,374h2v2h-2zM308,373h2v2h-2zM309,372h2v2h-2zM310,371h2v2h-2zM311,370h2v2h-2zM312,369h2v2h-2zM313,368h2v2h-2zM314,367h2v2h-2zM315,367h2v2h-2zM316,366h2v2h-2zM317,365h2v2h-2zM318,364h2v2h-2zM319,363h2v2h-2zM320,362h2v2h-2zM321,361h2v2h-2zM322,360h2v2h-2zM323,359h2v2h-2zM324,358h2v2h-2zM325,357h2v2h-2zM326,356h2v2h-2zM327,355h2v2h-2zM328,354h2v2h-2zM329,353h2v2h-2zM330,352h2v2h-2zM331,351h2v2h-2zM332,350h2v2h-2zM333,349h2v2h-2zM334,348h2v2h-2zM335,348h2v2h-2zM336,347h2v2h-2zM337,346h2v2h-2zM338,345h2v2h-2zM339,344h2v2h-2zM340,343h2v2h-2zM341,342h2v2h-2zM342,341h2v2h-2zM343,340h2v2h-2zM344,339h2v2h-2zM345,338h2v2h-2zM346,337h2v2h-2zM347,336h2v2h-2zM348,335h2v2h-2zM349,334h2v2h-2zM350,333h2v2h-2zM351,332h2v2h-2zM352,331h2v2h-2zM353,330h2v2h-2zM354,330h2v2h-2zM355,329h2v2h-2zM356,328h2v2h-2zM357,327h2v2h-2zM358,326h2v2h-2zM359,325h2v2h-2zM360,324h2v2h-2zM361,323h2v2h-2zM362,322h2v2h-2zM363,321h2v2h-2zM364,320h2v2h-2zM365,319h2v2h-2zM366,318h2v2h-2zM367,317h2v2h-2zM368,316h2v2h-2zM369,315h2v2h-2zM370,314h2v2h-2zM371,313h2v2h-2zM372,312h2v2h-2zM373,312h2v2h-2zM374,311h2v2h-2zM375,310h2v2h-2zM376,309h2v2h-2zM377,308h2v2h-2zM378,307h2v2h-2zM379,306h2v2h-2zM380,305h2v2h-2zM381,304h2v2h-2zM382,303h2v2h-2zM383,302h2v2h-2zM384,301h2v2h-2zM385,300h2v2h-2zM386,299h2v2h-2zM387,298h2v2h-2zM388,297h2v2h-2zM389,296h2v2h-2zM390,295h2v2h-2zM391,294h2v2h-2zM392,294h2v2h-2zM393,293h2v2h-2zM394,292h2v2h-2zM395,291h2v2h-2zM396,290h2v2h-2zM397,289h2v2h-2zM398,288h2v2h-2zM399,287h2v2h-2zM400,286h2v2h-2zM401,285h2v2h-2zM402,284h2v2h-2zM403,283h2v2h-2zM404,282h2v2h-2zM405,281h2v2h-2zM406,280h2v2h-2zM407,279h2v2h-2zM408,278h2v2h-2zM409,277h2v2h-2zM410,276h2v2h-2zM411,276h2v2h-2zM412,275h2v2h-2zM413,274h2v2h-2zM414,273h2v2h-2zM415,272h2v2h-2zM416,271h2v2h-2zM417,270h2v2h-2zM418,269h2v2h-2zM419,268h2v2h-2zM420,267h2v2h-2zM421,266h2v2h-2zM422,265h2v2h-2zM423,264h2v2h-2zM424,263h2v2h-2zM425,262h2v2h-2zM426,261h2v2h-2zM427,260h2v2h-2zM428,259h2v2h-2zM429,258h2v2h-2zM430,258h2v2h-2zM431,257h2v2h-2zM432,256h2v2h-2zM433,255h2v2h-2zM434,254h2v2h-2zM435,253h2v2h-2zM436,252h2v2h-2zM437,251h2v2h-2zM438,250h2v2h-2zM439,249h2v2h-2zM440,248h2v2h-2zM441,247h2v2h-2zM442,246h2v2h-2zM443,245h2v2h-2zM444,244h2v2h-2zM445,243h2v2h-2zM446,242h2v2h-2zM447,241h2v2h-2zM448,240h2v2h-2zM449,239h2v2h-2zM450,239h2v2h-2zM451,238h2v2h-2zM452,237h2v2h-2zM453,236h2v2h-2zM454,235h2v2h-2zM455,234h2v2h-2zM456,233h2v2h-2zM457,232h2v2h-2zM458,231h2v2h-2zM459,230h2v2h-2zM460,229h2v2h-2zM461,228h2v2h-2zM462,227h2v2h-2zM463,226h2v2h-2zM464,225h2v2h-2zM465,224h2v2h-2zM466,223h2v2h-2zM467,222h2v2h-2zM468,221h2v2h-2zM469,221h2v2h-2zM470,220h2v2h-2zM471,219h2v2h-2zM472,218h2v2h-2zM473,217h2v2h-2zM474,216h2v2h-2zM475,215h2v2h-2zM476,214h2v2h-2zM477,213h2v2h-2zM478,212h2v2h-2zM479,211h2v2h-2zM480,210h2v2h-2zM481,209h2v2h-2zM482,208h2v2h-2zM483,207h2v2h-2zM484,206h2v2h-2zM485,205h2v2h-2zM486,204h2v2h-2zM487,203h2v2h-2zM488,203h2v2h-2zM489,202h2v2h-2zM490,201h2v2h-2zM491,200h2v2h-2zM492,199h2v2h-2zM493,198h2v2h-2zM494,197h2v2h-2zM495,196h2v2h-2zM496,195h2v2h-2zM497,194h2v2h-2zM498,193h2v2h-2zM499,192h2v2h-2zM500,191h2v2h-2zM501,190h2v2h-2zM502,189h2v2h-2zM503,188h2v2h-2zM504,187h2v2h-2zM505,186h2v2h-2zM506,185h2v2h-2zM507,185h2v2h-2zM508,184h2v2h-2zM509,183h2v2h-2zM510,182h2v2h-2zM511,181h2v2h-2zM512,180h2v2h-2zM513,179h2v2h-2zM514,178h2v2h-2zM515,177h2v2h-2zM516,176h2v2h-2zM517,175h2v2h-2zM518,174h2v2h-2zM519,173h2v2h-2zM520,172h2v2h-2zM521,171h2v2h-2zM522,170h2v2h-2zM523,169h2v2h-2zM524,168h2v2h-2zM525,167h2v2h-2zM526,167h2v2h-2zM527,166h2v2h-2zM528,165h2v2h-2zM529,164h2v2h-2zM530,163h2v2h-2zM531,162h2v2h-2zM532,161h2v2h-2zM533,160h2v2h-2zM534,159h2v2h-2zM535,158h2v2h-2zM536,157h2v2h-2zM537,156h2v2h-2zM538,155h2v2h-2zM539,154h2v2h-2zM540,153h2v2h-2zM541,152h2v2h-2zM542,151h2v2h-2zM543,150h2v2h-2zM544,149h2v2h-2zM545,148h2v2h-2zM546,148h2v2h-2zM547,147h2v2h-2zM548,146h2v2h-2zM549,145h2v2h-2zM550,144h2v2h-2zM551,143h2v2h-2zM552,142h2v2h-2zM553,141h2v2h-2zM554,140h2v2h-2zM555,139h2v2h-2zM556,138h2v2h-2zM557,137h2v2h-2zM558,136h2v2h-2zM559,135h2v2h-2zM560,134h2v2h-2zM561,133h2v2h-2zM562,132h2v2h-2zM563,131h2v2h-2zM564,130h2v2h-2zM565,130h2v2h-2zM566,129h2v2h-2zM567,128h2v2h-2zM568,127h2v2h-2zM569,126h2v2h-2zM570,125h2v2h-2zM571,124h2v2h-2zM572,123h2v2h-2zM573,122h2v2h-2zM574,121h2v2h-2zM575,120h2v2h-2zM576,119h2v2h-2zM577,118h2v2h-2zM578,117h2v2h-2zM579,116h2v2h-2zM580,115h2v2h-2zM581,114h2v2h-2zM582,113h2v2h-2zM583,112h2v2h-2zM584,112h2v2h-2zM585,111h2v2h-2zM586,110h2v2h-2zM587,109h2v2h-2zM588,108h2v2h-2zM589,107h2v2h-2zM590,106h2v2h-2zM591,105h2v2h-2zM592,104h2v2h-2zM593,103h2v2h-2zM594,102h2v2h-2z" clip-path="url(#clip0)" shape-rendering="crispEdges" fill="#000"/>
<g font-family="Liberation Sans, sans-serif" fill="#000">
<text transform="translate(335.4,53) scale(1,0.965)" font-size="38.4" font-weight="bold" text-anchor="middle">nonsmoker</text>
<g transform="translate(148.2,953) scale(1,1.045)"><text x="-14.224" y="0" font-size="32">-</text><text x="-3.568" y="0" font-size="32">2</text></g>
<g transform="translate(241.2,953) scale(1,1.045)"><text x="-14.224" y="0" font-size="32">-</text><path transform="translate(-3.568,0) scale(0.015625,-0.015234)" d="M763 0H583V1147Q518 1085 412.5 1023T223 930V1104Q373 1174.5 485.5 1275T644 1470H763Z"/></g>
<g transform="translate(335.2,953) scale(1,1.045)"><text x="-8.896" y="0" font-size="32">0</text></g>
<g transform="translate(429.2,953) scale(1,1.045)"><path transform="translate(-8.896,0) scale(0.015625,-0.015234)" d="M763 0H583V1147Q518 1085 412.5 1023T223 930V1104Q373 1174.5 485.5 1275T644 1470H763Z"/></g>
<g transform="translate(522.2,953) scale(1,1.045)"><text x="-8.896" y="0" font-size="32">2</text></g>
<g transform="translate(30.6,820) rotate(-90) scale(1.035,1.03)"><text x="-8.896" y="0" font-size="32">2</text></g>
<g transform="translate(30.6,645) rotate(-90) scale(1.035,1.03)"><text x="-8.896" y="0" font-size="32">4</text></g>
<g transform="translate(30.6,469) rotate(-90) scale(1.035,1.03)"><text x="-8.896" y="0" font-size="32">6</text></g>
<g transform="translate(30.6,293) rotate(-90) scale(1.035,1.03)"><text x="-8.896" y="0" font-size="32">8</text></g>
<g transform="translate(30.6,118) rotate(-90) scale(1.035,1.03)"><path transform="translate(-17.792,0) scale(0.015625,-0.015234)" d="M763 0H583V1147Q518 1085 412.5 1023T223 930V1104Q373 1174.5 485.5 1275T644 1470H763Z"/><text x="0.000" y="0" font-size="32">0</text></g>
</g>
<g shape-rendering="crispEdges" fill="none" stroke="#000" stroke-width="2">
<clipPath id="clip672"><rect x="748" y="76" width="519" height="807"/></clipPath>
<rect x="748" y="76" width="519" height="807"/>
<line x1="729" y1="822" x2="748" y2="822"/>
<line x1="729" y1="621" x2="748" y2="621"/>
<line x1="729" y1="420" x2="748" y2="420"/>
<line x1="729" y1="220" x2="748" y2="220"/>
<line x1="801" y1="883" x2="801" y2="903"/>
<line x1="904" y1="883" x2="904" y2="903"/>
<line x1="1007" y1="883" x2="1007" y2="903"/>
<line x1="1111" y1="883" x2="1111" y2="903"/>
<line x1="1214" y1="883" x2="1214" y2="903"/>
</g>
<g shape-rendering="crispEdges" fill="#058A44" stroke="none">
<path d="M763,846h8v1h-8zM762,847h10v1h-10zM761,848h3v1h-3zM770,848h3v1h-3zM760,849h3v1h-3zM771,849h2v1h-2zM760,850h2v6h-2zM772,850h2v6h-2zM760,856h3v1h-3zM771,856h2v1h-2zM761,857h3v1h-3zM770,857h3v1h-3zM762,858h10v1h-10zM763,859h8v1h-8zM809,796h8v1h-8zM808,797h10v1h-10zM807,798h3v1h-3zM816,798h3v1h-3zM806,799h3v1h-3zM817,799h2v1h-2zM806,800h2v6h-2zM818,800h2v6h-2zM806,806h3v1h-3zM817,806h2v1h-2zM807,807h3v1h-3zM816,807h3v1h-3zM808,808h10v1h-10zM809,809h8v1h-8zM834,745h8v1h-8zM833,746h10v1h-10zM832,747h3v1h-3zM841,747h3v1h-3zM831,748h3v1h-3zM842,748h2v1h-2zM831,749h2v6h-2zM843,749h2v6h-2zM831,755h3v1h-3zM842,755h2v1h-2zM832,756h3v1h-3zM841,756h3v1h-3zM833,757h10v1h-10zM834,758h8v1h-8zM851,564h8v1h-8zM850,565h10v1h-10zM849,566h3v1h-3zM858,566h3v1h-3zM848,567h3v1h-3zM859,567h2v1h-2zM848,568h2v6h-2zM860,568h2v6h-2zM848,574h3v1h-3zM859,574h2v1h-2zM849,575h3v1h-3zM858,575h3v1h-3zM850,576h10v1h-10zM851,577h8v1h-8zM865,539h8v1h-8zM864,540h10v1h-10zM863,541h3v1h-3zM872,541h3v1h-3zM862,542h3v1h-3zM873,542h2v1h-2zM862,543h2v6h-2zM874,543h2v6h-2zM862,549h3v1h-3zM873,549h2v1h-2zM863,550h3v1h-3zM872,550h3v1h-3zM864,551h10v1h-10zM865,552h8v1h-8zM877,514h8v1h-8zM876,515h10v1h-10zM875,516h3v1h-3zM884,516h3v1h-3zM874,517h3v1h-3zM885,517h2v1h-2zM874,518h2v6h-2zM886,518h2v6h-2zM874,524h3v1h-3zM885,524h2v1h-2zM875,525h3v1h-3zM884,525h3v1h-3zM876,526h10v1h-10zM877,527h8v1h-8zM887,476h8v1h-8zM886,477h10v1h-10zM885,478h3v1h-3zM894,478h3v1h-3zM884,479h3v1h-3zM895,479h2v1h-2zM884,480h2v6h-2zM896,480h2v6h-2zM884,486h3v1h-3zM895,486h2v1h-2zM885,487h3v1h-3zM894,487h3v1h-3zM886,488h10v1h-10zM887,489h8v1h-8zM897,463h8v1h-8zM896,464h10v1h-10zM895,465h3v1h-3zM904,465h3v1h-3zM894,466h3v1h-3zM905,466h2v1h-2zM894,467h2v6h-2zM906,467h2v6h-2zM894,473h3v1h-3zM905,473h2v1h-2zM895,474h3v1h-3zM904,474h3v1h-3zM896,475h10v1h-10zM897,476h8v1h-8zM905,450h8v1h-8zM904,451h10v1h-10zM903,452h3v1h-3zM912,452h3v1h-3zM902,453h3v1h-3zM913,453h2v1h-2zM902,454h2v6h-2zM914,454h2v6h-2zM902,460h3v1h-3zM913,460h2v1h-2zM903,461h3v1h-3zM912,461h3v1h-3zM904,462h10v1h-10zM905,463h8v1h-8zM913,419h8v1h-8zM912,420h10v1h-10zM911,421h3v1h-3zM920,421h3v1h-3zM910,422h3v1h-3zM921,422h2v1h-2zM910,423h2v6h-2zM922,423h2v6h-2zM910,429h3v1h-3zM921,429h2v1h-2zM911,430h3v1h-3zM920,430h3v1h-3zM912,431h10v1h-10zM913,432h8v1h-8zM920,413h8v1h-8zM919,414h10v1h-10zM918,415h3v1h-3zM927,415h3v1h-3zM917,416h3v1h-3zM928,416h2v1h-2zM917,417h2v6h-2zM929,417h2v6h-2zM917,423h3v1h-3zM928,423h2v1h-2zM918,424h3v1h-3zM927,424h3v1h-3zM919,425h10v1h-10zM920,426h8v1h-8zM927,400h8v1h-8zM926,401h10v1h-10zM925,402h3v1h-3zM934,402h3v1h-3zM924,403h3v1h-3zM935,403h2v1h-2zM924,404h2v6h-2zM936,404h2v6h-2zM924,410h3v1h-3zM935,410h2v1h-2zM925,411h3v1h-3zM934,411h3v1h-3zM926,412h10v1h-10zM927,413h8v1h-8zM934,394h8v1h-8zM933,395h10v1h-10zM932,396h3v1h-3zM941,396h3v1h-3zM931,397h3v1h-3zM942,397h2v1h-2zM931,398h2v6h-2zM943,398h2v6h-2zM931,404h3v1h-3zM942,404h2v1h-2zM932,405h3v1h-3zM941,405h3v1h-3zM933,406h10v1h-10zM934,407h8v1h-8zM940,382h8v1h-8zM939,383h10v1h-10zM938,384h3v1h-3zM947,384h3v1h-3zM937,385h3v1h-3zM948,385h2v1h-2zM937,386h2v6h-2zM949,386h2v6h-2zM937,392h3v1h-3zM948,392h2v1h-2zM938,393h3v1h-3zM947,393h3v1h-3zM939,394h10v1h-10zM940,395h8v1h-8zM946,382h8v1h-8zM945,383h10v1h-10zM944,384h3v1h-3zM953,384h3v1h-3zM943,385h3v1h-3zM954,385h2v1h-2zM943,386h2v6h-2zM955,386h2v6h-2zM943,392h3v1h-3zM954,392h2v1h-2zM944,393h3v1h-3zM953,393h3v1h-3zM945,394h10v1h-10zM946,395h8v1h-8zM952,382h8v1h-8zM951,383h10v1h-10zM950,384h3v1h-3zM959,384h3v1h-3zM949,385h3v1h-3zM960,385h2v1h-2zM949,386h2v6h-2zM961,386h2v6h-2zM949,392h3v1h-3zM960,392h2v1h-2zM950,393h3v1h-3zM959,393h3v1h-3zM951,394h10v1h-10zM952,395h8v1h-8zM958,375h8v1h-8zM957,376h10v1h-10zM956,377h3v1h-3zM965,377h3v1h-3zM955,378h3v1h-3zM966,378h2v1h-2zM955,379h2v6h-2zM967,379h2v6h-2zM955,385h3v1h-3zM966,385h2v1h-2zM956,386h3v1h-3zM965,386h3v1h-3zM957,387h10v1h-10zM958,388h8v1h-8zM964,369h8v1h-8zM963,370h10v1h-10zM962,371h3v1h-3zM971,371h3v1h-3zM961,372h3v1h-3zM972,372h2v1h-2zM961,373h2v6h-2zM973,373h2v6h-2zM961,379h3v1h-3zM972,379h2v1h-2zM962,380h3v1h-3zM971,380h3v1h-3zM963,381h10v1h-10zM964,382h8v1h-8zM969,363h8v1h-8zM968,364h10v1h-10zM967,365h3v1h-3zM976,365h3v1h-3zM966,366h3v1h-3zM977,366h2v1h-2zM966,367h2v6h-2zM978,367h2v6h-2zM966,373h3v1h-3zM977,373h2v1h-2zM967,374h3v1h-3zM976,374h3v1h-3zM968,375h10v1h-10zM969,376h8v1h-8zM975,338h8v1h-8zM974,339h10v1h-10zM973,340h3v1h-3zM982,340h3v1h-3zM972,341h3v1h-3zM983,341h2v1h-2zM972,342h2v6h-2zM984,342h2v6h-2zM972,348h3v1h-3zM983,348h2v1h-2zM973,349h3v1h-3zM982,349h3v1h-3zM974,350h10v1h-10zM975,351h8v1h-8zM980,325h8v1h-8zM979,326h10v1h-10zM978,327h3v1h-3zM987,327h3v1h-3zM977,328h3v1h-3zM988,328h2v1h-2zM977,329h2v6h-2zM989,329h2v6h-2zM977,335h3v1h-3zM988,335h2v1h-2zM978,336h3v1h-3zM987,336h3v1h-3zM979,337h10v1h-10zM980,338h8v1h-8zM985,325h8v1h-8zM984,326h10v1h-10zM983,327h3v1h-3zM992,327h3v1h-3zM982,328h3v1h-3zM993,328h2v1h-2zM982,329h2v6h-2zM994,329h2v6h-2zM982,335h3v1h-3zM993,335h2v1h-2zM983,336h3v1h-3zM992,336h3v1h-3zM984,337h10v1h-10zM985,338h8v1h-8zM991,325h8v1h-8zM990,326h10v1h-10zM989,327h3v1h-3zM998,327h3v1h-3zM988,328h3v1h-3zM999,328h2v1h-2zM988,329h2v6h-2zM1000,329h2v6h-2zM988,335h3v1h-3zM999,335h2v1h-2zM989,336h3v1h-3zM998,336h3v1h-3zM990,337h10v1h-10zM991,338h8v1h-8zM996,325h8v1h-8zM995,326h10v1h-10zM994,327h3v1h-3zM1003,327h3v1h-3zM993,328h3v1h-3zM1004,328h2v1h-2zM993,329h2v6h-2zM1005,329h2v6h-2zM993,335h3v1h-3zM1004,335h2v1h-2zM994,336h3v1h-3zM1003,336h3v1h-3zM995,337h10v1h-10zM996,338h8v1h-8zM1001,319h8v1h-8zM1000,320h10v1h-10zM999,321h3v1h-3zM1008,321h3v1h-3zM998,322h3v1h-3zM1009,322h2v1h-2zM998,323h2v6h-2zM1010,323h2v6h-2zM998,329h3v1h-3zM1009,329h2v1h-2zM999,330h3v1h-3zM1008,330h3v1h-3zM1000,331h10v1h-10zM1001,332h8v1h-8zM1006,313h8v1h-8zM1005,314h10v1h-10zM1004,315h3v1h-3zM1013,315h3v1h-3zM1003,316h3v1h-3zM1014,316h2v1h-2zM1003,317h2v6h-2zM1015,317h2v6h-2zM1003,323h3v1h-3zM1014,323h2v1h-2zM1004,324h3v1h-3zM1013,324h3v1h-3zM1005,325h10v1h-10zM1006,326h8v1h-8zM1011,307h8v1h-8zM1010,308h10v1h-10zM1009,309h3v1h-3zM1018,309h3v1h-3zM1008,310h3v1h-3zM1019,310h2v1h-2zM1008,311h2v6h-2zM1020,311h2v6h-2zM1008,317h3v1h-3zM1019,317h2v1h-2zM1009,318h3v1h-3zM1018,318h3v1h-3zM1010,319h10v1h-10zM1011,320h8v1h-8zM1016,282h8v1h-8zM1015,283h10v1h-10zM1014,284h3v1h-3zM1023,284h3v1h-3zM1013,285h3v1h-3zM1024,285h2v1h-2zM1013,286h2v6h-2zM1025,286h2v6h-2zM1013,292h3v1h-3zM1024,292h2v1h-2zM1014,293h3v1h-3zM1023,293h3v1h-3zM1015,294h10v1h-10zM1016,295h8v1h-8zM1022,282h8v1h-8zM1021,283h10v1h-10zM1020,284h3v1h-3zM1029,284h3v1h-3zM1019,285h3v1h-3zM1030,285h2v1h-2zM1019,286h2v6h-2zM1031,286h2v6h-2zM1019,292h3v1h-3zM1030,292h2v1h-2zM1020,293h3v1h-3zM1029,293h3v1h-3zM1021,294h10v1h-10zM1022,295h8v1h-8zM1027,282h8v1h-8zM1026,283h10v1h-10zM1025,284h3v1h-3zM1034,284h3v1h-3zM1024,285h3v1h-3zM1035,285h2v1h-2zM1024,286h2v6h-2zM1036,286h2v6h-2zM1024,292h3v1h-3zM1035,292h2v1h-2zM1025,293h3v1h-3zM1034,293h3v1h-3zM1026,294h10v1h-10zM1027,295h8v1h-8zM1032,275h8v1h-8zM1031,276h10v1h-10zM1030,277h3v1h-3zM1039,277h3v1h-3zM1029,278h3v1h-3zM1040,278h2v1h-2zM1029,279h2v6h-2zM1041,279h2v6h-2zM1029,285h3v1h-3zM1040,285h2v1h-2zM1030,286h3v1h-3zM1039,286h3v1h-3zM1031,287h10v1h-10zM1032,288h8v1h-8zM1038,275h8v1h-8zM1037,276h10v1h-10zM1036,277h3v1h-3zM1045,277h3v1h-3zM1035,278h3v1h-3zM1046,278h2v1h-2zM1035,279h2v6h-2zM1047,279h2v6h-2zM1035,285h3v1h-3zM1046,285h2v1h-2zM1036,286h3v1h-3zM1045,286h3v1h-3zM1037,287h10v1h-10zM1038,288h8v1h-8zM1043,263h8v1h-8zM1042,264h10v1h-10zM1041,265h3v1h-3zM1050,265h3v1h-3zM1040,266h3v1h-3zM1051,266h2v1h-2zM1040,267h2v6h-2zM1052,267h2v6h-2zM1040,273h3v1h-3zM1051,273h2v1h-2zM1041,274h3v1h-3zM1050,274h3v1h-3zM1042,275h10v1h-10zM1043,276h8v1h-8zM1049,257h8v1h-8zM1048,258h10v1h-10zM1047,259h3v1h-3zM1056,259h3v1h-3zM1046,260h3v1h-3zM1057,260h2v1h-2zM1046,261h2v6h-2zM1058,261h2v6h-2zM1046,267h3v1h-3zM1057,267h2v1h-2zM1047,268h3v1h-3zM1056,268h3v1h-3zM1048,269h10v1h-10zM1049,270h8v1h-8zM1055,244h8v1h-8zM1054,245h10v1h-10zM1053,246h3v1h-3zM1062,246h3v1h-3zM1052,247h3v1h-3zM1063,247h2v1h-2zM1052,248h2v6h-2zM1064,248h2v6h-2zM1052,254h3v1h-3zM1063,254h2v1h-2zM1053,255h3v1h-3zM1062,255h3v1h-3zM1054,256h10v1h-10zM1055,257h8v1h-8zM1061,238h8v1h-8zM1060,239h10v1h-10zM1059,240h3v1h-3zM1068,240h3v1h-3zM1058,241h3v1h-3zM1069,241h2v1h-2zM1058,242h2v6h-2zM1070,242h2v6h-2zM1058,248h3v1h-3zM1069,248h2v1h-2zM1059,249h3v1h-3zM1068,249h3v1h-3zM1060,250h10v1h-10zM1061,251h8v1h-8zM1067,232h8v1h-8zM1066,233h10v1h-10zM1065,234h3v1h-3zM1074,234h3v1h-3zM1064,235h3v1h-3zM1075,235h2v1h-2zM1064,236h2v6h-2zM1076,236h2v6h-2zM1064,242h3v1h-3zM1075,242h2v1h-2zM1065,243h3v1h-3zM1074,243h3v1h-3zM1066,244h10v1h-10zM1067,245h8v1h-8zM1073,232h8v1h-8zM1072,233h10v1h-10zM1071,234h3v1h-3zM1080,234h3v1h-3zM1070,235h3v1h-3zM1081,235h2v1h-2zM1070,236h2v6h-2zM1082,236h2v6h-2zM1070,242h3v1h-3zM1081,242h2v1h-2zM1071,243h3v1h-3zM1080,243h3v1h-3zM1072,244h10v1h-10zM1073,245h8v1h-8zM1080,219h8v1h-8zM1079,220h10v1h-10zM1078,221h3v1h-3zM1087,221h3v1h-3zM1077,222h3v1h-3zM1088,222h2v1h-2zM1077,223h2v6h-2zM1089,223h2v6h-2zM1077,229h3v1h-3zM1088,229h2v1h-2zM1078,230h3v1h-3zM1087,230h3v1h-3zM1079,231h10v1h-10zM1080,232h8v1h-8zM1087,213h8v1h-8zM1086,214h10v1h-10zM1085,215h3v1h-3zM1094,215h3v1h-3zM1084,216h3v1h-3zM1095,216h2v1h-2zM1084,217h2v6h-2zM1096,217h2v6h-2zM1084,223h3v1h-3zM1095,223h2v1h-2zM1085,224h3v1h-3zM1094,224h3v1h-3zM1086,225h10v1h-10zM1087,226h8v1h-8zM1094,200h8v1h-8zM1093,201h10v1h-10zM1092,202h3v1h-3zM1101,202h3v1h-3zM1091,203h3v1h-3zM1102,203h2v1h-2zM1091,204h2v6h-2zM1103,204h2v6h-2zM1091,210h3v1h-3zM1102,210h2v1h-2zM1092,211h3v1h-3zM1101,211h3v1h-3zM1093,212h10v1h-10zM1094,213h8v1h-8zM1102,200h8v1h-8zM1101,201h10v1h-10zM1100,202h3v1h-3zM1109,202h3v1h-3zM1099,203h3v1h-3zM1110,203h2v1h-2zM1099,204h2v6h-2zM1111,204h2v6h-2zM1099,210h3v1h-3zM1110,210h2v1h-2zM1100,211h3v1h-3zM1109,211h3v1h-3zM1101,212h10v1h-10zM1102,213h8v1h-8zM1110,194h8v1h-8zM1109,195h10v1h-10zM1108,196h3v1h-3zM1117,196h3v1h-3zM1107,197h3v1h-3zM1118,197h2v1h-2zM1107,198h2v6h-2zM1119,198h2v6h-2zM1107,204h3v1h-3zM1118,204h2v1h-2zM1108,205h3v1h-3zM1117,205h3v1h-3zM1109,206h10v1h-10zM1110,207h8v1h-8zM1120,187h8v1h-8zM1119,188h10v1h-10zM1118,189h3v1h-3zM1127,189h3v1h-3zM1117,190h3v1h-3zM1128,190h2v1h-2zM1117,191h2v6h-2zM1129,191h2v6h-2zM1117,197h3v1h-3zM1128,197h2v1h-2zM1118,198h3v1h-3zM1127,198h3v1h-3zM1119,199h10v1h-10zM1120,200h8v1h-8zM1130,174h8v1h-8zM1129,175h10v1h-10zM1128,176h3v1h-3zM1137,176h3v1h-3zM1127,177h3v1h-3zM1138,177h2v1h-2zM1127,178h2v6h-2zM1139,178h2v6h-2zM1127,184h3v1h-3zM1138,184h2v1h-2zM1128,185h3v1h-3zM1137,185h3v1h-3zM1129,186h10v1h-10zM1130,187h8v1h-8zM1142,174h8v1h-8zM1141,175h10v1h-10zM1140,176h3v1h-3zM1149,176h3v1h-3zM1139,177h3v1h-3zM1150,177h2v1h-2zM1139,178h2v6h-2zM1151,178h2v6h-2zM1139,184h3v1h-3zM1150,184h2v1h-2zM1140,185h3v1h-3zM1149,185h3v1h-3zM1141,186h10v1h-10zM1142,187h8v1h-8zM1156,156h8v1h-8zM1155,157h10v1h-10zM1154,158h3v1h-3zM1163,158h3v1h-3zM1153,159h3v1h-3zM1164,159h2v1h-2zM1153,160h2v6h-2zM1165,160h2v6h-2zM1153,166h3v1h-3zM1164,166h2v1h-2zM1154,167h3v1h-3zM1163,167h3v1h-3zM1155,168h10v1h-10zM1156,169h8v1h-8zM1173,124h8v1h-8zM1172,125h10v1h-10zM1171,126h3v1h-3zM1180,126h3v1h-3zM1170,127h3v1h-3zM1181,127h2v1h-2zM1170,128h2v6h-2zM1182,128h2v6h-2zM1170,134h3v1h-3zM1181,134h2v1h-2zM1171,135h3v1h-3zM1180,135h3v1h-3zM1172,136h10v1h-10zM1173,137h8v1h-8zM1198,106h8v1h-8zM1197,107h10v1h-10zM1196,108h3v1h-3zM1205,108h3v1h-3zM1195,109h3v1h-3zM1206,109h2v1h-2zM1195,110h2v6h-2zM1207,110h2v6h-2zM1195,116h3v1h-3zM1206,116h2v1h-2zM1196,117h3v1h-3zM1205,117h3v1h-3zM1197,118h10v1h-10zM1198,119h8v1h-8zM1243,99h8v1h-8zM1242,100h10v1h-10zM1241,101h3v1h-3zM1250,101h3v1h-3zM1240,102h3v1h-3zM1251,102h2v1h-2zM1240,103h2v6h-2zM1252,103h2v6h-2zM1240,109h3v1h-3zM1251,109h2v1h-2zM1241,110h3v1h-3zM1250,110h3v1h-3zM1242,111h10v1h-10zM1243,112h8v1h-8z"/>
</g>
<path d="M747,616h2v2h-2zM748,615h2v2h-2zM749,614h2v2h-2zM750,613h2v2h-2zM751,612h2v2h-2zM752,610h2v2h-2zM753,609h2v2h-2zM754,608h2v2h-2zM755,607h2v2h-2zM756,606h2v2h-2zM757,605h2v2h-2zM758,603h2v2h-2zM759,602h2v2h-2zM760,601h2v2h-2zM761,600h2v2h-2zM762,599h2v2h-2zM763,598h2v2h-2zM764,597h2v2h-2zM765,595h2v2h-2zM766,594h2v2h-2zM767,593h2v2h-2zM768,592h2v2h-2zM769,591h2v2h-2zM770,590h2v2h-2zM771,589h2v2h-2zM772,587h2v2h-2zM773,586h2v2h-2zM774,585h2v2h-2zM775,584h2v2h-2zM776,583h2v2h-2zM777,582h2v2h-2zM778,581h2v2h-2zM779,579h2v2h-2zM780,578h2v2h-2zM781,577h2v2h-2zM782,576h2v2h-2zM783,575h2v2h-2zM784,574h2v2h-2zM785,573h2v2h-2zM786,571h2v2h-2zM787,570h2v2h-2zM788,569h2v2h-2zM789,568h2v2h-2zM790,567h2v2h-2zM791,566h2v2h-2zM792,565h2v2h-2zM793,563h2v2h-2zM794,562h2v2h-2zM795,561h2v2h-2zM796,560h2v2h-2zM797,559h2v2h-2zM798,558h2v2h-2zM799,556h2v2h-2zM800,555h2v2h-2zM801,554h2v2h-2zM802,553h2v2h-2zM803,552h2v2h-2zM804,551h2v2h-2zM805,550h2v2h-2zM806,548h2v2h-2zM807,547h2v2h-2zM808,546h2v2h-2zM809,545h2v2h-2zM810,544h2v2h-2zM811,543h2v2h-2zM812,542h2v2h-2zM813,540h2v2h-2zM814,539h2v2h-2zM815,538h2v2h-2zM816,537h2v2h-2zM817,536h2v2h-2zM818,535h2v2h-2zM819,534h2v2h-2zM820,532h2v2h-2zM821,531h2v2h-2zM822,530h2v2h-2zM823,529h2v2h-2zM824,528h2v2h-2zM825,527h2v2h-2zM826,526h2v2h-2zM827,524h2v2h-2zM828,523h2v2h-2zM829,522h2v2h-2zM830,521h2v2h-2zM831,520h2v2h-2zM832,519h2v2h-2zM833,518h2v2h-2zM834,516h2v2h-2zM835,515h2v2h-2zM836,514h2v2h-2zM837,513h2v2h-2zM838,512h2v2h-2zM839,511h2v2h-2zM840,509h2v2h-2zM841,508h2v2h-2zM842,507h2v2h-2zM843,506h2v2h-2zM844,505h2v2h-2zM845,504h2v2h-2zM846,503h2v2h-2zM847,501h2v2h-2zM848,500h2v2h-2zM849,499h2v2h-2zM850,498h2v2h-2zM851,497h2v2h-2zM852,496h2v2h-2zM853,495h2v2h-2zM854,493h2v2h-2zM855,492h2v2h-2zM856,491h2v2h-2zM857,490h2v2h-2zM858,489h2v2h-2zM859,488h2v2h-2zM860,487h2v2h-2zM861,485h2v2h-2zM862,484h2v2h-2zM863,483h2v2h-2zM864,482h2v2h-2zM865,481h2v2h-2zM866,480h2v2h-2zM867,479h2v2h-2zM868,477h2v2h-2zM869,476h2v2h-2zM870,475h2v2h-2zM871,474h2v2h-2zM872,473h2v2h-2zM873,472h2v2h-2zM874,471h2v2h-2zM875,469h2v2h-2zM876,468h2v2h-2zM877,467h2v2h-2zM878,466h2v2h-2zM879,465h2v2h-2zM880,464h2v2h-2zM881,462h2v2h-2zM882,461h2v2h-2zM883,460h2v2h-2zM884,459h2v2h-2zM885,458h2v2h-2zM886,457h2v2h-2zM887,456h2v2h-2zM888,454h2v2h-2zM889,453h2v2h-2zM890,452h2v2h-2zM891,451h2v2h-2zM892,450h2v2h-2zM893,449h2v2h-2zM894,448h2v2h-2zM895,446h2v2h-2zM896,445h2v2h-2zM897,444h2v2h-2zM898,443h2v2h-2zM899,442h2v2h-2zM900,441h2v2h-2zM901,440h2v2h-2zM902,438h2v2h-2zM903,437h2v2h-2zM904,436h2v2h-2zM905,435h2v2h-2zM906,434h2v2h-2zM907,433h2v2h-2zM908,432h2v2h-2zM909,430h2v2h-2zM910,429h2v2h-2zM911,428h2v2h-2zM912,427h2v2h-2zM913,426h2v2h-2zM914,425h2v2h-2zM915,424h2v2h-2zM916,422h2v2h-2zM917,421h2v2h-2zM918,420h2v2h-2zM919,419h2v2h-2zM920,418h2v2h-2zM921,417h2v2h-2zM922,415h2v2h-2zM923,414h2v2h-2zM924,413h2v2h-2zM925,412h2v2h-2zM926,411h2v2h-2zM927,410h2v2h-2zM928,409h2v2h-2zM929,407h2v2h-2zM930,406h2v2h-2zM931,405h2v2h-2zM932,404h2v2h-2zM933,403h2v2h-2zM934,402h2v2h-2zM935,401h2v2h-2zM936,399h2v2h-2zM937,398h2v2h-2zM938,397h2v2h-2zM939,396h2v2h-2zM940,395h2v2h-2zM941,394h2v2h-2zM942,393h2v2h-2zM943,391h2v2h-2zM944,390h2v2h-2zM945,389h2v2h-2zM946,388h2v2h-2zM947,387h2v2h-2zM948,386h2v2h-2zM949,385h2v2h-2zM950,383h2v2h-2zM951,382h2v2h-2zM952,381h2v2h-2zM953,380h2v2h-2zM954,379h2v2h-2zM955,378h2v2h-2zM956,377h2v2h-2zM957,375h2v2h-2zM958,374h2v2h-2zM959,373h2v2h-2zM960,372h2v2h-2zM961,371h2v2h-2zM962,370h2v2h-2zM963,368h2v2h-2zM964,367h2v2h-2zM965,366h2v2h-2zM966,365h2v2h-2zM967,364h2v2h-2zM968,363h2v2h-2zM969,362h2v2h-2zM970,360h2v2h-2zM971,359h2v2h-2zM972,358h2v2h-2zM973,357h2v2h-2zM974,356h2v2h-2zM975,355h2v2h-2zM976,354h2v2h-2zM977,352h2v2h-2zM978,351h2v2h-2zM979,350h2v2h-2zM980,349h2v2h-2zM981,348h2v2h-2zM982,347h2v2h-2zM983,346h2v2h-2zM984,344h2v2h-2zM985,343h2v2h-2zM986,342h2v2h-2zM987,341h2v2h-2zM988,340h2v2h-2zM989,339h2v2h-2zM990,338h2v2h-2zM991,336h2v2h-2zM992,335h2v2h-2zM993,334h2v2h-2zM994,333h2v2h-2zM995,332h2v2h-2zM996,331h2v2h-2zM997,330h2v2h-2zM998,328h2v2h-2zM999,327h2v2h-2zM1000,326h2v2h-2zM1001,325h2v2h-2zM1002,324h2v2h-2zM1003,323h2v2h-2zM1004,321h2v2h-2zM1005,320h2v2h-2zM1006,319h2v2h-2zM1007,318h2v2h-2zM1008,317h2v2h-2zM1009,316h2v2h-2zM1010,315h2v2h-2zM1011,313h2v2h-2zM1012,312h2v2h-2zM1013,311h2v2h-2zM1014,310h2v2h-2zM1015,309h2v2h-2zM1016,308h2v2h-2zM1017,307h2v2h-2zM1018,305h2v2h-2zM1019,304h2v2h-2zM1020,303h2v2h-2zM1021,302h2v2h-2zM1022,301h2v2h-2zM1023,300h2v2h-2zM1024,299h2v2h-2zM1025,297h2v2h-2zM1026,296h2v2h-2zM1027,295h2v2h-2zM1028,294h2v2h-2zM1029,293h2v2h-2zM1030,292h2v2h-2zM1031,291h2v2h-2zM1032,289h2v2h-2zM1033,288h2v2h-2zM1034,287h2v2h-2zM1035,286h2v2h-2zM1036,285h2v2h-2zM1037,284h2v2h-2zM1038,282h2v2h-2zM1039,281h2v2h-2zM1040,280h2v2h-2zM1041,279h2v2h-2zM1042,278h2v2h-2zM1043,277h2v2h-2zM1044,276h2v2h-2zM1045,274h2v2h-2zM1046,273h2v2h-2zM1047,272h2v2h-2zM1048,271h2v2h-2zM1049,270h2v2h-2zM1050,269h2v2h-2zM1051,268h2v2h-2zM1052,266h2v2h-2zM1053,265h2v2h-2zM1054,264h2v2h-2zM1055,263h2v2h-2zM1056,262h2v2h-2zM1057,261h2v2h-2zM1058,260h2v2h-2zM1059,258h2v2h-2zM1060,257h2v2h-2zM1061,256h2v2h-2zM1062,255h2v2h-2zM1063,254h2v2h-2zM1064,253h2v2h-2zM1065,252h2v2h-2zM1066,250h2v2h-2zM1067,249h2v2h-2zM1068,248h2v2h-2zM1069,247h2v2h-2zM1070,246h2v2h-2zM1071,245h2v2h-2zM1072,244h2v2h-2zM1073,242h2v2h-2zM1074,241h2v2h-2zM1075,240h2v2h-2zM1076,239h2v2h-2zM1077,238h2v2h-2zM1078,237h2v2h-2zM1079,235h2v2h-2zM1080,234h2v2h-2zM1081,233h2v2h-2zM1082,232h2v2h-2zM1083,231h2v2h-2zM1084,230h2v2h-2zM1085,229h2v2h-2zM1086,227h2v2h-2zM1087,226h2v2h-2zM1088,225h2v2h-2zM1089,224h2v2h-2zM1090,223h2v2h-2zM1091,222h2v2h-2zM1092,221h2v2h-2zM1093,219h2v2h-2zM1094,218h2v2h-2zM1095,217h2v2h-2zM1096,216h2v2h-2zM1097,215h2v2h-2zM1098,214h2v2h-2zM1099,213h2v2h-2zM1100,211h2v2h-2zM1101,210h2v2h-2zM1102,209h2v2h-2zM1103,208h2v2h-2zM1104,207h2v2h-2zM1105,206h2v2h-2zM1106,205h2v2h-2zM1107,203h2v2h-2zM1108,202h2v2h-2zM1109,201h2v2h-2zM1110,200h2v2h-2zM1111,199h2v2h-2zM1112,198h2v2h-2zM1113,197h2v2h-2zM1114,195h2v2h-2zM1115,194h2v2h-2zM1116,193h2v2h-2zM1117,192h2v2h-2zM1118,191h2v2h-2zM1119,190h2v2h-2zM1120,188h2v2h-2zM1121,187h2v2h-2zM1122,186h2v2h-2zM1123,185h2v2h-2zM1124,184h2v2h-2zM1125,183h2v2h-2zM1126,182h2v2h-2zM1127,180h2v2h-2zM1128,179h2v2h-2zM1129,178h2v2h-2zM1130,177h2v2h-2zM1131,176h2v2h-2zM1132,175h2v2h-2zM1133,174h2v2h-2zM1134,172h2v2h-2zM1135,171h2v2h-2zM1136,170h2v2h-2zM1137,169h2v2h-2zM1138,168h2v2h-2zM1139,167h2v2h-2zM1140,166h2v2h-2zM1141,164h2v2h-2zM1142,163h2v2h-2zM1143,162h2v2h-2zM1144,161h2v2h-2zM1145,160h2v2h-2zM1146,159h2v2h-2zM1147,158h2v2h-2zM1148,156h2v2h-2zM1149,155h2v2h-2zM1150,154h2v2h-2zM1151,153h2v2h-2zM1152,152h2v2h-2zM1153,151h2v2h-2zM1154,150h2v2h-2zM1155,148h2v2h-2zM1156,147h2v2h-2zM1157,146h2v2h-2zM1158,145h2v2h-2zM1159,144h2v2h-2zM1160,143h2v2h-2zM1161,141h2v2h-2zM1162,140h2v2h-2zM1163,139h2v2h-2zM1164,138h2v2h-2zM1165,137h2v2h-2zM1166,136h2v2h-2zM1167,135h2v2h-2zM1168,133h2v2h-2zM1169,132h2v2h-2zM1170,131h2v2h-2zM1171,130h2v2h-2zM1172,129h2v2h-2zM1173,128h2v2h-2zM1174,127h2v2h-2zM1175,125h2v2h-2zM1176,124h2v2h-2zM1177,123h2v2h-2zM1178,122h2v2h-2zM1179,121h2v2h-2zM1180,120h2v2h-2zM1181,119h2v2h-2zM1182,117h2v2h-2zM1183,116h2v2h-2zM1184,115h2v2h-2zM1185,114h2v2h-2zM1186,113h2v2h-2zM1187,112h2v2h-2zM1188,111h2v2h-2zM1189,109h2v2h-2zM1190,108h2v2h-2zM1191,107h2v2h-2zM1192,106h2v2h-2zM1193,105h2v2h-2zM1194,104h2v2h-2zM1195,103h2v2h-2zM1196,101h2v2h-2zM1197,100h2v2h-2zM1198,99h2v2h-2zM1199,98h2v2h-2zM1200,97h2v2h-2zM1201,96h2v2h-2zM1202,94h2v2h-2zM1203,93h2v2h-2zM1204,92h2v2h-2zM1205,91h2v2h-2zM1206,90h2v2h-2zM1207,89h2v2h-2zM1208,88h2v2h-2zM1209,86h2v2h-2zM1210,85h2v2h-2zM1211,84h2v2h-2zM1212,83h2v2h-2zM1213,82h2v2h-2zM1214,81h2v2h-2zM1215,80h2v2h-2zM1216,78h2v2h-2zM1217,77h2v2h-2zM1218,76h2v2h-2z" clip-path="url(#clip672)" shape-rendering="crispEdges" fill="#000"/>
<g font-family="Liberation Sans, sans-serif" fill="#000">
<text transform="translate(1007.4,53) scale(1,0.965)" font-size="38.4" font-weight="bold" text-anchor="middle">smoker</text>
<g transform="translate(800.2,953) scale(1,1.045)"><text x="-14.224" y="0" font-size="32">-</text><text x="-3.568" y="0" font-size="32">2</text></g>
<g transform="translate(903.2,953) scale(1,1.045)"><text x="-14.224" y="0" font-size="32">-</text><path transform="translate(-3.568,0) scale(0.015625,-0.015234)" d="M763 0H583V1147Q518 1085 412.5 1023T223 930V1104Q373 1174.5 485.5 1275T644 1470H763Z"/></g>
<g transform="translate(1007.2,953) scale(1,1.045)"><text x="-8.896" y="0" font-size="32">0</text></g>
<g transform="translate(1111.2,953) scale(1,1.045)"><path transform="translate(-8.896,0) scale(0.015625,-0.015234)" d="M763 0H583V1147Q518 1085 412.5 1023T223 930V1104Q373 1174.5 485.5 1275T644 1470H763Z"/></g>
<g transform="translate(1214.2,953) scale(1,1.045)"><text x="-8.896" y="0" font-size="32">2</text></g>
<g transform="translate(702.6,822) rotate(-90) scale(1.035,1.03)"><text x="-8.896" y="0" font-size="32">2</text></g>
<g transform="translate(702.6,621) rotate(-90) scale(1.035,1.03)"><text x="-8.896" y="0" font-size="32">4</text></g>
<g transform="translate(702.6,420) rotate(-90) scale(1.035,1.03)"><text x="-8.896" y="0" font-size="32">6</text></g>
<g transform="translate(702.6,220) rotate(-90) scale(1.035,1.03)"><text x="-8.896" y="0" font-size="32">8</text></g>
</g>
</svg></body></html>
